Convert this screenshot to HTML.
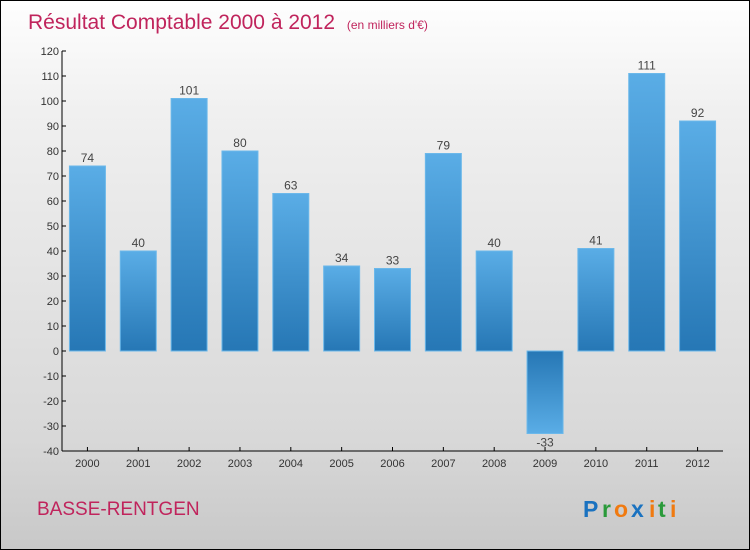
<!DOCTYPE html>
<html><head><meta charset="utf-8"><style>
body{margin:0}
#c{width:750px;height:550px;position:relative;box-sizing:border-box;border:1px solid #000;background:linear-gradient(#fefefe,#f0f0f0 20%,#d8d8d8 80%,#c8c8c8);font-family:"Liberation Sans",sans-serif;overflow:hidden}
svg{position:absolute;left:0;top:0}
</style></head><body>
<div id="c">
<svg width="750" height="550" id="s">
<defs>
<linearGradient id="gp" x1="0" y1="0" x2="0" y2="1"><stop offset="0" stop-color="#5aade6"/><stop offset="1" stop-color="#2677b5"/></linearGradient>
<linearGradient id="gn" x1="0" y1="0" x2="0" y2="1"><stop offset="0" stop-color="#2677b5"/><stop offset="1" stop-color="#5aade6"/></linearGradient>
</defs>
<text x="27" y="28" font-size="21" fill="#c0245c">Résultat Comptable 2000 à 2012 <tspan font-size="12" dx="6">(en milliers d'€)</tspan></text>
<text x="36" y="514" font-size="19" fill="#c0245c">BASSE-RENTGEN</text>
<g font-size="23" font-weight="bold">
<text x="582" y="516" fill="#1a72c0">P</text><text x="601" y="516" fill="#2a9a3a">r</text><text x="613" y="516" fill="#f07a10">o</text><text x="630" y="516" fill="#1a72c0">x</text><text x="648" y="516" fill="#f07a10">i</text><text x="657" y="516" fill="#2a9a3a">t</text><text x="669" y="516" fill="#f07a10">i</text>
</g>
<g id="g"></g>
</svg>
</div>
<script>
const categories=["2000","2001","2002","2003","2004","2005","2006","2007","2008","2009","2010","2011","2012"];
const values=[74,40,101,80,63,34,33,79,40,-33,41,111,92];
const yTicks=[120,110,100,90,80,70,60,50,40,30,20,10,0,-10,-20,-30,-40];
const yMin=-40,yMax=120,plotTop=50,plotBot=450,plotLeft=61,plotRight=722;
const yS=v=>plotBot-(v-yMin)/(yMax-yMin)*(plotBot-plotTop);
const band=(plotRight-plotLeft)/categories.length;
const xS=i=>plotLeft+band*(i+0.5);
const gEl=document.getElementById('g');
const NS="http://www.w3.org/2000/svg";
function mk(t,a){const e=document.createElementNS(NS,t);for(const k in a)e.setAttribute(k,a[k]);gEl.appendChild(e);return e;}
values.forEach((v,i)=>{
const r=mk('rect',{x:xS(i)-18,y:Math.min(yS(v),yS(0)),width:36,height:Math.abs(yS(v)-yS(0)),fill:v>=0?'url(#gp)':'url(#gn)',stroke:'#6bb8ea','stroke-width':1});


const t=mk('text',{x:xS(i),y:v>=0?yS(v)-4:yS(v)+13,'text-anchor':'middle','font-size':12,fill:'#444'});
t.textContent=v;


const xt=mk('line',{x1:xS(i),x2:xS(i),y1:plotBot,y2:plotBot-4,stroke:'#000'});


const xl=mk('text',{x:xS(i),y:plotBot+16,'text-anchor':'middle','font-size':11,fill:'#333'});
xl.textContent=categories[i];


});
yTicks.forEach(v=>{
const l=mk('line',{x1:plotLeft,x2:plotLeft+4,y1:yS(v),y2:yS(v),stroke:'#000'});


const t=mk('text',{x:plotLeft-3,y:yS(v)+4,'text-anchor':'end','font-size':11,fill:'#333'});
t.textContent=v;


});
const ya=mk('line',{x1:plotLeft,x2:plotLeft,y1:plotTop,y2:plotBot,stroke:'#000'});


const xa=mk('line',{x1:plotLeft,x2:plotRight,y1:plotBot,y2:plotBot,stroke:'#000'});


</script>
</body></html>
